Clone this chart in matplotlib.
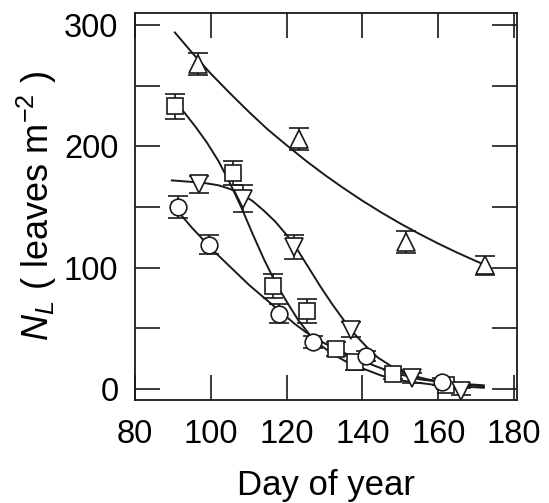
import numpy as np
import matplotlib.pyplot as plt

plt.rcParams['font.family'] = ['Liberation Sans', 'DejaVu Sans']
plt.rcParams['mathtext.fontset'] = 'custom'
plt.rcParams['mathtext.rm'] = 'Liberation Sans'
plt.rcParams['mathtext.it'] = 'Liberation Sans:italic'

# measured points (day of year, leaves m-2, error)
up_x = [96.6, 123.2, 151.6, 172.4]
up_y = [268, 206, 121, 102]
up_e = [9, 9, 9, 8]

sq_x = [90.5, 105.8, 116.3, 125.3, 133, 138, 148, 162]
sq_y = [233, 178, 85, 64, 33, 22, 12, 3]
sq_e = [10, 10, 10, 10, 6, 6, 4, 3]

ci_x = [91.3, 99.5, 118, 127, 140.8, 161]
ci_y = [150, 119, 62, 39, 27, 6]
ci_e = [9, 8, 8, 5, 4, 3]

dn_x = [97, 108.4, 122, 137, 153, 166]
dn_y = [169, 157, 117, 49, 9, -2]
dn_e = [7, 11, 10, 6, 4, 3]

# fitted curves
up_cx = [90.5, 95, 100, 105, 110, 115, 120, 125, 130, 135, 140, 145, 150, 155, 160, 165, 170, 172.5]
up_cy = [294, 277.5, 260, 244, 228.6, 214, 201, 188.4, 176.6, 165.6, 155.2, 145.5, 136.4, 127.9, 119.9, 112.4, 105.4, 102]

sq_cx = [90.5, 93, 96, 99, 102, 105, 108, 111, 114, 117, 120, 123, 126, 129, 132, 136, 140, 145, 150, 155, 160, 166, 172]
sq_cy = [236, 228, 216, 203, 188, 170, 150, 128, 107, 88, 72, 57, 45, 36, 29, 22, 17, 11, 7, 5, 3, 2, 1]

ci_cx = [89.7, 92, 95, 98, 101, 104, 107, 110, 113, 116, 119, 122, 125, 128, 131, 135, 140, 145, 150, 155, 160, 166, 172]
ci_cy = [154, 144, 133, 123, 113, 104, 95, 86, 78, 70, 62, 54, 47, 41, 36, 30, 23, 17, 12, 8, 6, 4, 2]

dn_cx = [89.7, 94, 98, 102, 105, 108, 111, 114, 117, 120, 123, 126, 129, 132, 135, 138, 141, 144, 148, 152, 157, 163, 172]
dn_cy = [172, 171, 170, 168, 165, 161, 155, 147, 138, 127, 114, 99, 84, 70, 57, 45, 35, 26, 18, 12, 8, 5, 3]

fig = plt.figure(figsize=(5.49, 5.03), dpi=100)
ax = fig.add_axes([0.246, 0.205, 0.696, 0.769])

lw = 1.4
for cx, cy in [(up_cx, up_cy), (sq_cx, sq_cy), (ci_cx, ci_cy), (dn_cx, dn_cy)]:
    ax.plot(cx, cy, color='#1a1a1a', lw=lw)

for x, y, e, m, ms in [(up_x, up_y, up_e, '^', 13), (sq_x, sq_y, sq_e, 's', 11),
                       (ci_x, ci_y, ci_e, 'o', 12), (dn_x, dn_y, dn_e, 'v', 13)]:
    ax.errorbar(x, y, yerr=e, fmt=m, ms=ms, mfc='white', mec='#1a1a1a', mew=1.2,
                ecolor='#1a1a1a', elinewidth=1.2, capsize=7, capthick=1.2)

ax.set_xlim(80, 180.8)
ax.set_ylim(-9, 310)
ax.set_xticks([80, 100, 120, 140, 160, 180])
ax.set_yticks([0, 100, 200, 300])
ax.set_yticks([50, 150, 250], minor=True)
ax.tick_params(which='both', direction='in', top=True, right=True, length=18, width=1.2,
               color='#1a1a1a')
ax.tick_params(axis='y', labelsize=23.5, pad=12)
ax.tick_params(axis='x', labelsize=23.5, pad=14)
for s in ax.spines.values():
    s.set_linewidth(1.3)
    s.set_color('#1a1a1a')

ax.set_xlabel('Day of year', fontsize=25, va='baseline')
ax.set_ylabel(r'$N_L$ ( leaves m$^{-2}$ )', fontsize=26, va='center')
ax.xaxis.set_label_coords(0.5, -0.245)
ax.yaxis.set_label_coords(-0.257, 0.5)

fig.savefig('out.png')
